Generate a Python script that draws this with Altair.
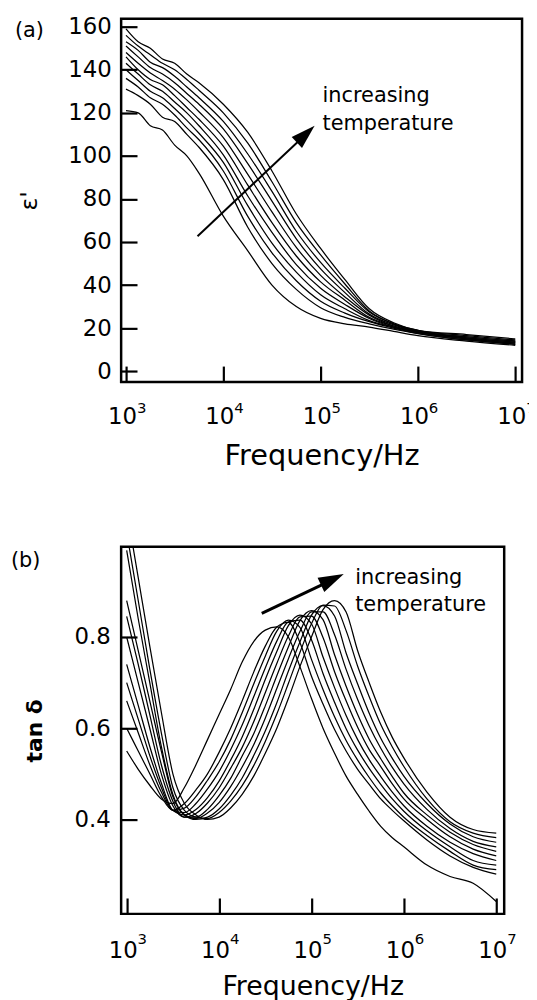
import altair as alt
import pandas as pd

FONT = "DejaVu Sans"

# ---------------- panel (a): permittivity eps' vs frequency ----------------
LOGF_A = [3.0, 3.125, 3.25, 3.375, 3.5, 3.625, 3.75, 4.0, 4.25, 4.5, 4.75,
          5.0, 5.25, 5.5, 5.75, 6.0, 6.5, 7.0]
EPS_1 = [121, 120, 114, 112, 105, 100, 92, 72, 56, 40, 30, 24.5, 22, 20.5, 18.5, 16.5, 14, 12]
EPS_2 = [131, 128, 124, 118, 116, 110, 104, 89, 67, 50, 38, 29.5, 25, 22, 19.5, 17.5, 14.5, 12.5]
EPS_3 = [136, 132, 127, 124, 119, 113, 107.5, 93, 72, 55, 42, 32.5, 27, 23, 20, 17.5, 14.5, 12.5]
EPS_4 = [140, 135, 130, 127, 122, 116.5, 110.5, 97, 77, 59.5, 46, 35.5, 29, 23.5, 20.5, 18, 15, 13]
EPS_5 = [143, 138, 133, 130, 125, 120, 114, 100.5, 81.5, 64.5, 49.5, 38.5, 31, 24.5, 20.5, 18, 15, 13]
EPS_6 = [146, 140, 135.5, 133, 128, 122.5, 117, 104.5, 86.5, 69, 53.5, 41.5, 33, 25, 21, 18, 15.5, 13.5]
EPS_7 = [148, 143, 138.5, 135, 131, 126, 120.5, 108.5, 91.5, 74, 57.5, 44.5, 34.5, 26, 21, 18.5, 15.5, 13.5]
EPS_8 = [151, 146, 141, 138, 134, 129, 124, 112.5, 96.5, 79, 61.5, 47.5, 36.5, 26.5, 21.5, 18.5, 16, 14]
EPS_9 = [153, 149, 143.5, 141, 137, 132, 127, 116, 101, 83.5, 65, 50.5, 38.5, 27.5, 22, 18.5, 16, 14]
EPS_10 = [156, 151, 147, 143, 140, 135.5, 130.5, 120, 106, 88, 69, 54, 40.5, 28, 22, 19, 16.5, 14.5]
EPS_11 = [159, 153, 150, 145, 143, 138, 134, 124, 111, 93, 73, 57, 42.5, 29, 22.5, 19, 17, 15]
EPS_CURVES = [EPS_1, EPS_2, EPS_3, EPS_4, EPS_5, EPS_6, EPS_7, EPS_8, EPS_9, EPS_10, EPS_11]

# ---------------- panel (b): tan delta vs frequency ----------------
LOGF_B = [3.0, 3.125, 3.25, 3.375, 3.5, 3.625, 3.75, 3.875, 4.0, 4.125, 4.25, 4.375,
          4.5, 4.625, 4.75, 4.875, 5.0, 5.125, 5.25, 5.375, 5.5, 5.625, 5.75, 5.875,
          6.0, 6.25, 6.5, 6.75, 7.0]
TAN_1 = [.55, .51, .475, .445, .435, .47, .52, .575, .63, .685, .745, .79, .815, .822, .80, .735,
         .665, .60, .545, .495, .455, .418, .385, .36, .34, .30, .275, .26, .22]
TAN_2 = [.60, .55, .50, .45, .42, .435, .465, .50, .547, .60, .66, .723, .78, .822, .832, .788,
         .714, .653, .597, .55, .51, .477, .445, .42, .397, .355, .32, .295, .28]
TAN_3 = [.66, .59, .52, .46, .42, .425, .45, .486, .526, .575, .634, .697, .758, .813, .837, .821,
         .751, .685, .625, .573, .53, .492, .458, .43, .405, .365, .33, .30, .29]
TAN_4 = [.70, .62, .54, .47, .42, .415, .435, .467, .505, .553, .607, .669, .732, .791, .833, .837,
         .794, .72, .657, .599, .552, .512, .477, .445, .418, .375, .34, .31, .30]
TAN_5 = [.74, .65, .56, .48, .42, .41, .422, .448, .484, .53, .581, .641, .707, .768, .825, .848,
         .829, .756, .689, .628, .575, .531, .494, .46, .43, .385, .35, .325, .31]
TAN_6 = [.80, .70, .60, .50, .43, .405, .413, .436, .469, .512, .558, .614, .678, .742, .802, .844,
         .846, .799, .724, .66, .602, .553, .516, .478, .445, .40, .362, .335, .32]
TAN_7 = [.845, .74, .63, .52, .44, .405, .405, .422, .452, .49, .539, .588, .649, .715, .778, .836,
         .858, .838, .761, .692, .63, .576, .533, .494, .458, .41, .372, .345, .33]
TAN_8 = [.88, .77, .66, .55, .45, .41, .402, .414, .437, .472, .515, .564, .622, .687, .752, .812,
         .855, .855, .805, .729, .663, .605, .556, .514, .478, .422, .38, .352, .34]
TAN_9 = [.99, .84, .70, .56, .455, .41, .40, .405, .423, .453, .491, .54, .594, .656, .725, .789,
         .848, .869, .846, .765, .697, .633, .578, .534, .495, .435, .39, .362, .35]
TAN_10 = [1.03, .88, .73, .59, .47, .42, .405, .402, .415, .44, .474, .518, .571, .631, .698, .766,
          .829, .87, .868, .814, .736, .669, .608, .559, .516, .445, .395, .37, .36]
TAN_11 = [1.08, .93, .78, .635, .50, .435, .41, .40, .405, .425, .455, .495, .545, .60, .665, .735,
          .80, .86, .88, .855, .77, .70, .635, .58, .535, .46, .405, .378, .37]
TAN_CURVES = [TAN_1, TAN_2, TAN_3, TAN_4, TAN_5, TAN_6, TAN_7, TAN_8, TAN_9, TAN_10, TAN_11]

# ---------------- axes ----------------
TICK_EXPONENTS = [3, 4, 5, 6, 7]
EPS_TICKS = [0, 20, 40, 60, 80, 100, 120, 140, 160]
TAN_TICKS = [0.4, 0.6, 0.8]

# ---------------- annotations (data coordinates: log10 f, value) ----------------
ARROW_A_LOGF = [3.735, 4.786]
ARROW_A_VAL = [62.7, 107.4]
HEAD_A = (4.847, 110.1)
TEXT_A_LOGF = [5.02, 5.02]
TEXT_A_VAL = [124.9, 112.0]
ARROW_B_LOGF = [4.462, 5.129]
ARROW_B_VAL = [0.852, 0.916]
HEAD_B = (5.226, 0.926)
TEXT_B_LOGF = [5.473, 5.473]
TEXT_B_VAL = [0.917, 0.857]
TEXT_LINES = ["increasing", "temperature"]

A_W, A_H = 404, 366
B_W, B_H = 386, 370
TICK = 16


def long_df(logf, curves):
    rows = []
    for i, c in enumerate(curves):
        for lf, v in zip(logf, c):
            rows.append({"freq": 10 ** lf, "val": v, "curve": f"T{i + 1}"})
    return pd.DataFrame(rows)


def build_panel(curves, logf, W, H, xdom, ydom, yticks, ytitle, ytitle_size, ytitle_weight,
                ytitle_x, xtitle_size, xtitle_y, label_size, xlabel_pad, ylabel_pad,
                yfmt, arrow_logf, arrow_val, head, head_angle, head_size, arrow_w,
                text_logf, text_val, exp_size, exp_y, exp_dx, tag, tag_x, tag_y):
    df = long_df(logf, curves)
    xscale = alt.Scale(type="log", domain=xdom, nice=False)
    yscale = alt.Scale(domain=ydom, nice=False, zero=False)
    xaxis = alt.Axis(values=[10 ** e for e in TICK_EXPONENTS], labelExpr="'10'",
                     title="Frequency/Hz", offset=-TICK, tickSize=TICK, tickWidth=2.2,
                     tickColor="black", domain=False, grid=False, labelFont=FONT,
                     labelFontSize=label_size, labelColor="black", labelPadding=xlabel_pad,
                     labelOffset=-4, labelFlush=False, labelOverlap=False,
                     titleFont=FONT, titleFontSize=xtitle_size, titleFontWeight="normal",
                     titleColor="black", titleBaseline="alphabetic", titleY=xtitle_y,
                     titleX=W / 2, titleAlign="center")
    yaxis = alt.Axis(values=yticks, format=yfmt, title=ytitle, offset=-TICK, tickSize=TICK,
                     tickWidth=2.2, tickColor="black", domain=False, grid=False,
                     labelFont=FONT, labelFontSize=label_size, labelColor="black",
                     labelPadding=ylabel_pad, labelFlush=False, labelOverlap=False,
                     titleFont=FONT, titleFontSize=ytitle_size, titleFontWeight=ytitle_weight,
                     titleColor="black", titleAngle=270, titleX=ytitle_x, titleY=H / 2,
                     titleAlign="center", titleBaseline="middle")

    lines = alt.Chart(df).mark_line(color="black", strokeWidth=1.25, clip=True,
                                    interpolate="monotone").encode(
        x=alt.X("freq:Q", scale=xscale, axis=xaxis),
        y=alt.Y("val:Q", scale=yscale, axis=yaxis),
        detail="curve:N",
    )

    arrow_df = pd.DataFrame({"freq": [10 ** arrow_logf[0]], "freq2": [10 ** arrow_logf[1]],
                             "val": [arrow_val[0]], "val2": [arrow_val[1]]})
    arrow = alt.Chart(arrow_df).mark_rule(color="black", strokeWidth=arrow_w).encode(
        x="freq:Q", x2="freq2:Q", y="val:Q", y2="val2:Q")

    head_df = pd.DataFrame({"freq": [10 ** head[0]], "val": [head[1]]})
    head_mark = alt.Chart(head_df).mark_point(
        shape="M0,-1L0.62,1L-0.62,1Z", filled=True, color="black", opacity=1,
        size=head_size, angle=head_angle).encode(x="freq:Q", y="val:Q")

    text_df = pd.DataFrame({"freq": [10 ** v for v in text_logf], "val": text_val,
                            "label": TEXT_LINES})
    text = alt.Chart(text_df).mark_text(align="left", baseline="alphabetic", font=FONT,
                                        fontSize=21, color="black").encode(
        x="freq:Q", y="val:Q", text="label:N")

    exp_df = pd.DataFrame({"freq": [10 ** e for e in TICK_EXPONENTS],
                           "label": [str(e) for e in TICK_EXPONENTS]})
    exps = alt.Chart(exp_df).mark_text(align="left", baseline="top", font=FONT,
                                       fontSize=exp_size, color="black", dx=exp_dx).encode(
        x="freq:Q", y=alt.value(exp_y), text="label:N")

    tag_df = pd.DataFrame({"label": [tag]})
    tag_mark = alt.Chart(tag_df).mark_text(align="left", baseline="top", font=FONT,
                                           fontSize=21, color="black").encode(
        x=alt.value(tag_x), y=alt.value(tag_y), text="label:N")

    return alt.layer(lines, arrow, head_mark, text, exps, tag_mark).properties(
        width=W, height=H)


panel_a = build_panel(
    EPS_CURVES, LOGF_A, A_W, A_H, [10 ** 2.95, 10 ** 7.07], [-5, 163.7], EPS_TICKS,
    "ε'", 24, "normal", -108, 29, 99, 23, 23.5, 10, "d",
    ARROW_A_LOGF, ARROW_A_VAL, HEAD_A, 47, 600, 2,
    TEXT_A_LOGF, TEXT_A_VAL, 15, A_H + 19, 11, "(a)", -107, 1)

panel_b = build_panel(
    TAN_CURVES, LOGF_B, B_W, B_H, [10 ** 2.94, 10 ** 7.086], [0.193, 0.998], TAN_TICKS,
    "tan δ", 22, "bold", -103, 27, 97, 23, 25.5, 11, ".1f",
    ARROW_B_LOGF, ARROW_B_VAL, HEAD_B, 64.6, 650, 3,
    TEXT_B_LOGF, TEXT_B_VAL, 15, B_H + 18, 11, "(b)", -111, 3)

chart = alt.vconcat(panel_a, panel_b, spacing=73).properties(
    padding={"left": 1, "top": 2, "right": -8, "bottom": 0}
).configure(background="white").configure_view(stroke="black", strokeWidth=2.5)

chart.save("out.html", embed_options={"renderer": "svg", "actions": False})
